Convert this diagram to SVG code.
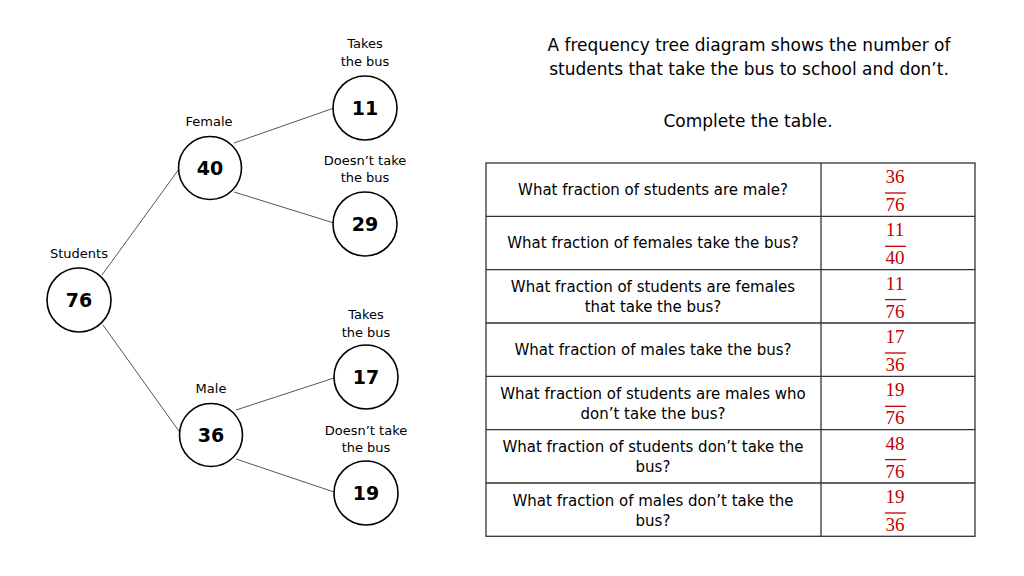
<svg xmlns="http://www.w3.org/2000/svg" width="1024" height="576" viewBox="0 0 1024 576">
<style>
.t{font-family:"DejaVu Sans","Open Sans",sans-serif;fill:#000;text-anchor:middle}
.lbl{font-size:13px}
.num{font-size:19px;font-weight:bold}
.q{font-size:15px}
.title{font-size:17px}
.fr{font-family:"Liberation Serif","DejaVu Serif",serif;font-size:19px;fill:#C00000;text-anchor:middle}
.bar{stroke:#C00000;stroke-width:1.3}
.node circle{fill:#fff;stroke:#000;stroke-width:1.6}
.conn line{stroke:#555;stroke-width:1}
.grid{stroke:#333;stroke-width:1.3;fill:none}
</style>
<rect width="1024" height="576" fill="#fff"/>
<g class="conn">
<line x1="102" y1="275" x2="179" y2="169"/>
<line x1="103" y1="325" x2="181" y2="434"/>
<line x1="234" y1="143" x2="334" y2="108"/>
<line x1="234" y1="192" x2="334" y2="223"/>
<line x1="236" y1="410" x2="334" y2="378"/>
<line x1="236" y1="459" x2="334" y2="492"/>
</g>
<g id="n76" class="node"><circle cx="79" cy="300" r="32"/><text class="t num" x="79" y="307">76</text><text class="t lbl" x="79" y="258">Students</text></g>
<g id="n40" class="node"><circle cx="210" cy="168" r="31.5"/><text class="t num" x="210" y="175">40</text><text class="t lbl" x="209" y="126">Female</text></g>
<g id="n36" class="node"><circle cx="211" cy="435" r="31.5"/><text class="t num" x="211" y="442">36</text><text class="t lbl" x="211" y="393">Male</text></g>
<g id="n11" class="node"><circle cx="365" cy="108" r="32"/><text class="t num" x="365" y="115">11</text><text class="t lbl" x="365" y="48">Takes</text><text class="t lbl" x="365" y="66">the bus</text></g>
<g id="n29" class="node"><circle cx="365" cy="224" r="32"/><text class="t num" x="365" y="231">29</text><text class="t lbl" x="365" y="165">Doesn’t take</text><text class="t lbl" x="365" y="182">the bus</text></g>
<g id="n17" class="node"><circle cx="366" cy="377" r="32"/><text class="t num" x="366" y="384">17</text><text class="t lbl" x="366" y="319">Takes</text><text class="t lbl" x="366" y="337">the bus</text></g>
<g id="n19" class="node"><circle cx="366" cy="493" r="32"/><text class="t num" x="366" y="500">19</text><text class="t lbl" x="366" y="435">Doesn’t take</text><text class="t lbl" x="366" y="452">the bus</text></g>
<g id="title">
<text class="t title" x="749" y="51">A frequency tree diagram shows the number of</text>
<text class="t title" x="749" y="75">students that take the bus to school and don’t.</text>
<text class="t title" x="748" y="127">Complete the table.</text>
</g>
<g id="table">
<rect class="grid" x="486" y="163" width="489" height="373.3"/>
<line class="grid" x1="821" y1="163" x2="821" y2="536.3"/>
<line class="grid" x1="486" y1="216.3" x2="975" y2="216.3"/>
<line class="grid" x1="486" y1="269.6" x2="975" y2="269.6"/>
<line class="grid" x1="486" y1="323" x2="975" y2="323"/>
<line class="grid" x1="486" y1="376.3" x2="975" y2="376.3"/>
<line class="grid" x1="486" y1="429.6" x2="975" y2="429.6"/>
<line class="grid" x1="486" y1="483" x2="975" y2="483"/>
<text class="t q" x="653" y="195">What fraction of students are male?</text>
<text class="t q" x="653" y="248">What fraction of females take the bus?</text>
<text class="t q" x="653" y="292">What fraction of students are females</text>
<text class="t q" x="653" y="312">that take the bus?</text>
<text class="t q" x="653" y="355">What fraction of males take the bus?</text>
<text class="t q" x="653" y="399">What fraction of students are males who</text>
<text class="t q" x="653" y="419">don’t take the bus?</text>
<text class="t q" x="653" y="452">What fraction of students don’t take the</text>
<text class="t q" x="653" y="472">bus?</text>
<text class="t q" x="653" y="506">What fraction of males don’t take the</text>
<text class="t q" x="653" y="526">bus?</text>
</g>
<g id="fractions">
<text class="fr" x="895" y="183">36</text><line class="bar" x1="885" y1="193" x2="906" y2="193"/><text class="fr" x="895" y="211">76</text>
<text class="fr" x="895" y="236.3">11</text><line class="bar" x1="885" y1="246.3" x2="906" y2="246.3"/><text class="fr" x="895" y="264.3">40</text>
<text class="fr" x="895" y="289.6">11</text><line class="bar" x1="885" y1="299.6" x2="906" y2="299.6"/><text class="fr" x="895" y="317.6">76</text>
<text class="fr" x="895" y="343">17</text><line class="bar" x1="885" y1="353" x2="906" y2="353"/><text class="fr" x="895" y="371">36</text>
<text class="fr" x="895" y="396.3">19</text><line class="bar" x1="885" y1="406.3" x2="906" y2="406.3"/><text class="fr" x="895" y="424.3">76</text>
<text class="fr" x="895" y="449.6">48</text><line class="bar" x1="885" y1="459.6" x2="906" y2="459.6"/><text class="fr" x="895" y="477.6">76</text>
<text class="fr" x="895" y="503">19</text><line class="bar" x1="885" y1="513" x2="906" y2="513"/><text class="fr" x="895" y="531">36</text>
</g>
</svg>
